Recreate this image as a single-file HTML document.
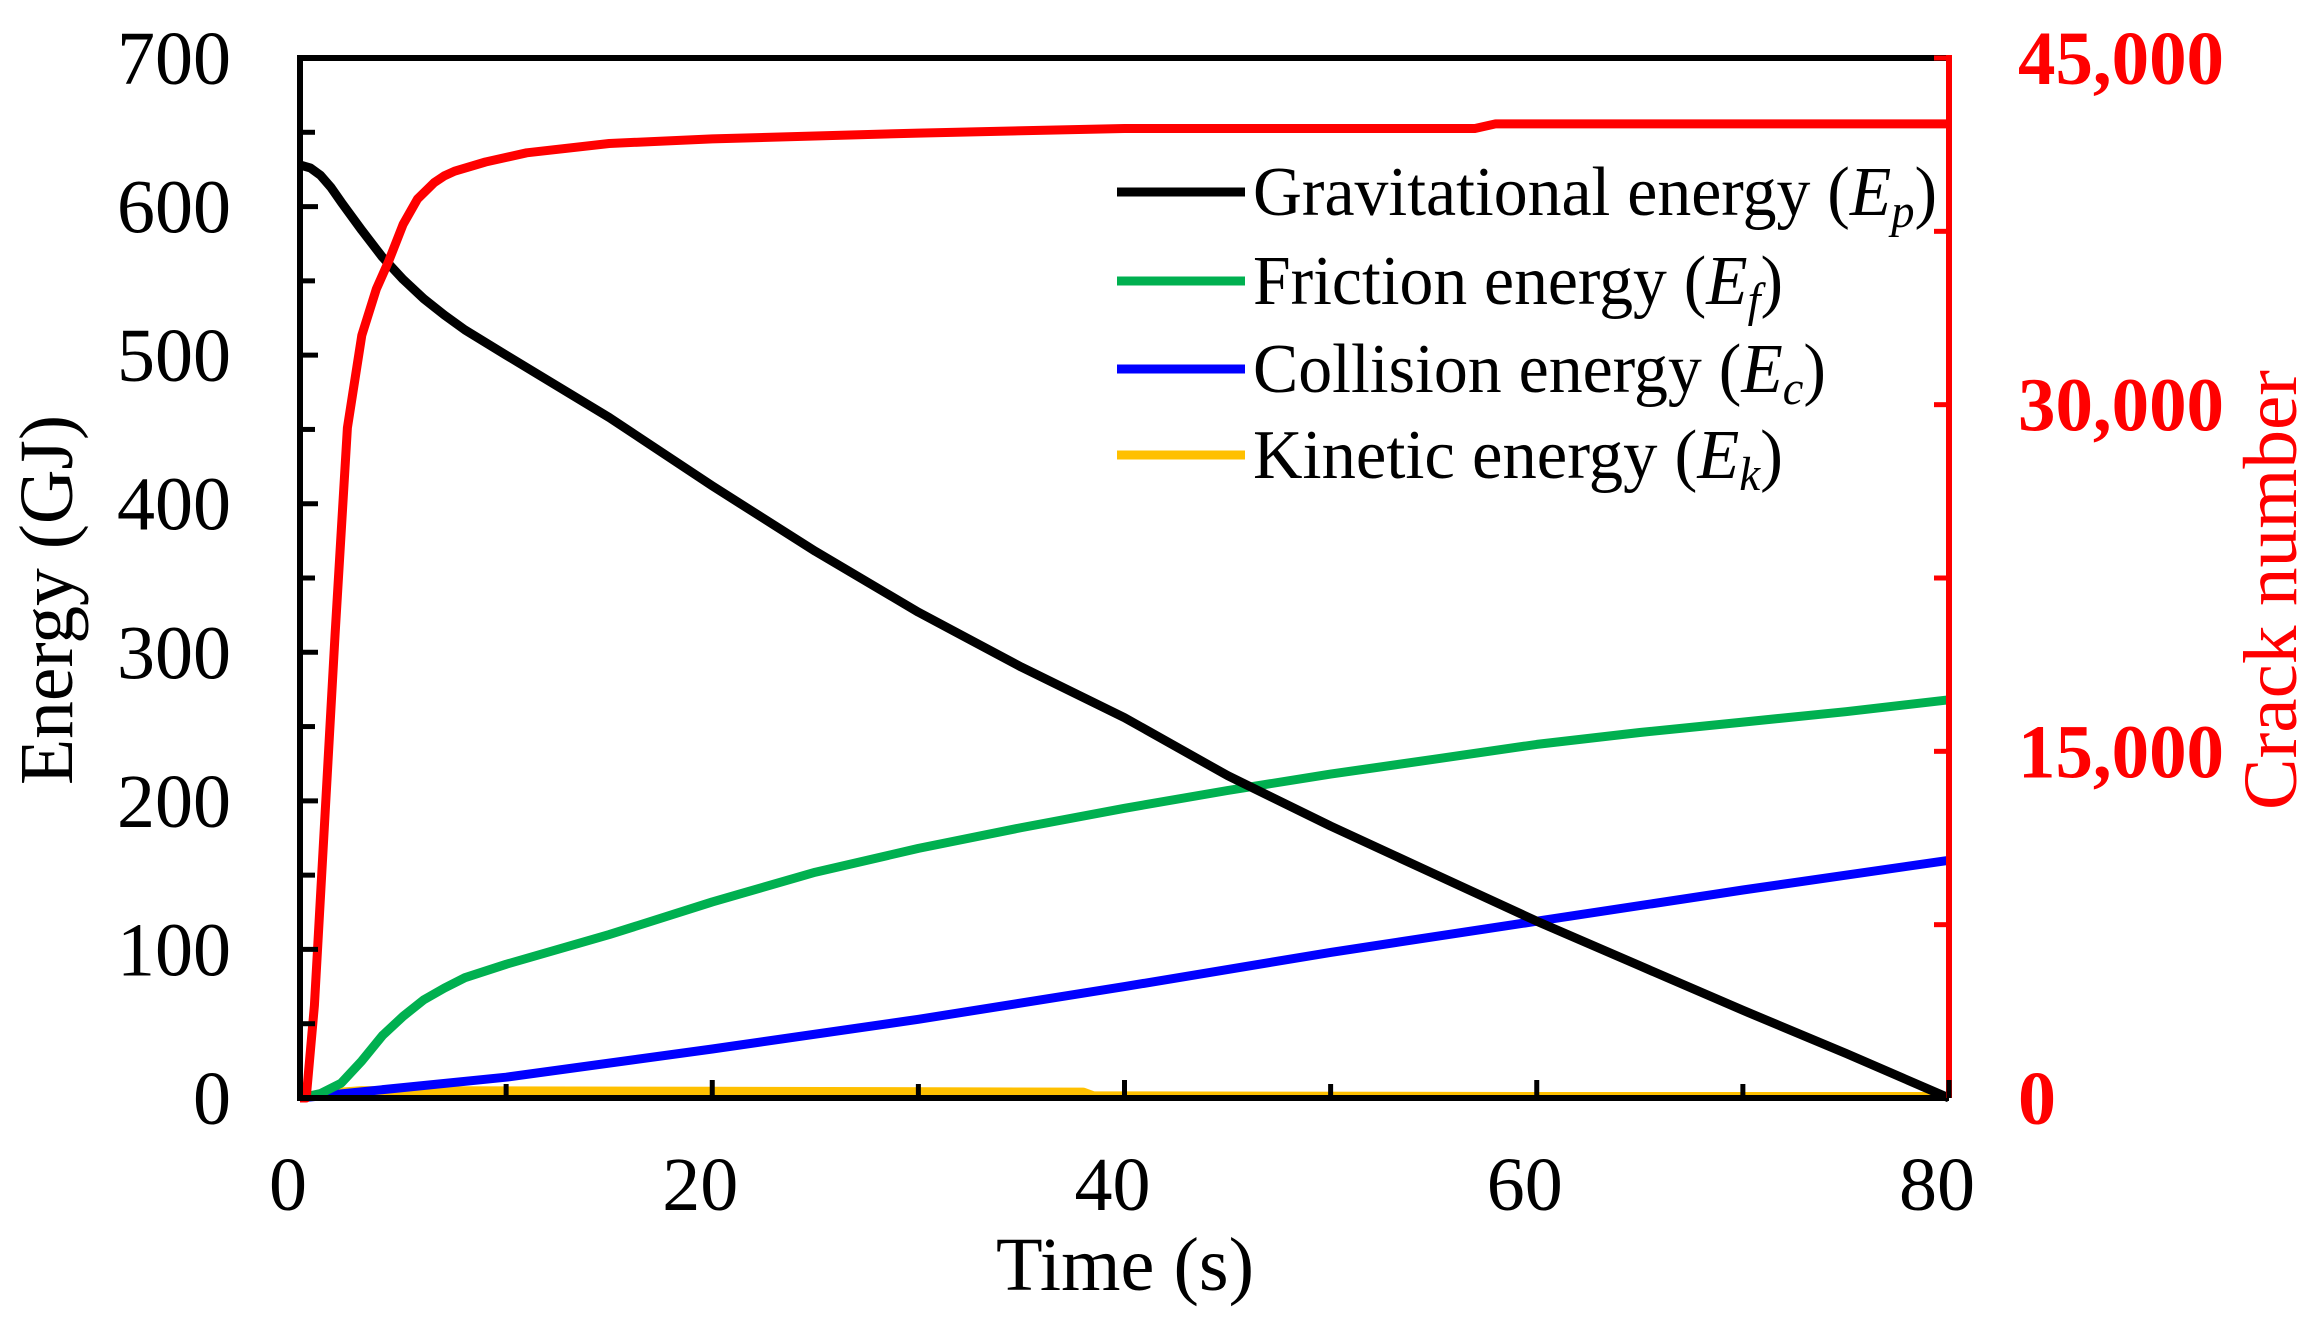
<!DOCTYPE html>
<html><head><meta charset="utf-8"><style>
html,body{margin:0;padding:0;background:#fff;}
svg{display:block;}
text{font-family:"Liberation Serif","DejaVu Serif",serif;}
</style></head><body>
<svg id="chart" width="2321" height="1323" viewBox="0 0 2321 1323" xmlns="http://www.w3.org/2000/svg">
<g id="series"></g>
<g id="axes"></g>
<g id="legend">
  <line x1="1117" y1="192" x2="1245" y2="192" stroke="#000" stroke-width="9"/>
  <text x="1253" y="215" font-size="70" textLength="684" lengthAdjust="spacingAndGlyphs">Gravitational energy (<tspan font-style="italic">E</tspan><tspan font-style="italic" font-size="48" dy="12">p</tspan><tspan dy="-12">)</tspan></text>
  <line x1="1117" y1="281" x2="1245" y2="281" stroke="#00b050" stroke-width="9"/>
  <text x="1253" y="304" font-size="70" textLength="530" lengthAdjust="spacingAndGlyphs">Friction energy (<tspan font-style="italic">E</tspan><tspan font-style="italic" font-size="48" dy="12">f</tspan><tspan dy="-12">)</tspan></text>
  <line x1="1117" y1="369" x2="1245" y2="369" stroke="#0000ff" stroke-width="9"/>
  <text x="1253" y="392" font-size="70" textLength="573" lengthAdjust="spacingAndGlyphs">Collision energy (<tspan font-style="italic">E</tspan><tspan font-style="italic" font-size="48" dy="12">c</tspan><tspan dy="-12">)</tspan></text>
  <line x1="1117" y1="455" x2="1245" y2="455" stroke="#ffc000" stroke-width="9"/>
  <text x="1253" y="478" font-size="70" textLength="530" lengthAdjust="spacingAndGlyphs">Kinetic energy (<tspan font-style="italic">E</tspan><tspan font-style="italic" font-size="48" dy="12">k</tspan><tspan dy="-12">)</tspan></text>
</g>
<text transform="translate(72,600) rotate(-90)" text-anchor="middle" font-size="76" textLength="370" lengthAdjust="spacingAndGlyphs">Energy (GJ)</text>
<text transform="translate(2296,590) rotate(-90)" text-anchor="middle" font-size="76" fill="#ff0000" textLength="440" lengthAdjust="spacingAndGlyphs">Crack number</text>
<text x="1125" y="1290" text-anchor="middle" font-size="76" textLength="258" lengthAdjust="spacingAndGlyphs">Time (s)</text>
</svg>
<script>
const timeEp = [0,0.5,1,1.5,2,3,4,5,6,7,8,10,15,20,25,30,35,40,45,50,55,60,65,70,75,80];
const gravitational = [628,626,621,613,603,584,566,551,538,527,517,500,458,412,368,327,290,256,217,183,151,119,89,59,30,0];
const timeEf = [0,1,2,3,4,5,6,7,8,10,15,20,25,30,35,40,45,50,55,60,65,70,75,80];
const friction = [0,3,10,25,42,55,66,74,81,90,110,132,152,168,182,195,207,218,228,238,246,253,260,268];
const timeEc = [0,10,20,30,40,50,60,70,80];
const collision = [0,14,33,53,75,98,119,140,160];
const timeEk = [0,2,3,20,38,38.5,60,80];
const kinetic = [0,4,5,4.5,4,1.5,1,1];
const timeCrack = [0,0.3,0.7,1.2,1.7,2.3,3,3.7,4.3,5,5.7,6.5,7,7.5,9,11,15,20,30,40,57,58,80];
const cracks = [0,0,4000,12000,20000,29000,33000,35000,36200,37800,38900,39600,39900,40100,40500,40900,41300,41500,41750,41950,41950,42150,42150];
const xTicks = [0,20,40,60,80];
const yTicks = [0,100,200,300,400,500,600,700];
const y2Ticks = [0,15000,30000,45000];
const y2TickLabels = ["0","15,000","30,000","45,000"];

const X0=300,X1=1949,Y0=1098,Y1=58;
const sx=t=>X0+(t/80)*(X1-X0);
const sy=v=>Y0-(v/700)*(Y0-Y1);
const sy2=v=>Y0-(v/45000)*(Y0-Y1);
const NS="http://www.w3.org/2000/svg";
const S=document.getElementById('series'), A=document.getElementById('axes');
function mk(tag,attrs,parent){const e=document.createElementNS(NS,tag);for(const k in attrs)e.setAttribute(k,attrs[k]);parent.appendChild(e);return e;}
function line(ts,vs,f,color,name){
  const d=ts.map((t,i)=>(i?'L':'M')+sx(t).toFixed(1)+','+f(vs[i]).toFixed(1)).join(' ');
  const p=mk('path',{d:d,fill:'none',stroke:color,'stroke-width':9,'stroke-linejoin':'round'},S);
  
  
}
line(timeEk,kinetic,sy,'#ffc000','kinetic-energy-line');
line(timeEc,collision,sy,'#0000ff','collision-energy-line');
line(timeEf,friction,sy,'#00b050','friction-energy-line');
line(timeEp,gravitational,sy,'#000000','gravitational-energy-line');
line(timeCrack,cracks,sy2,'#ff0000','crack-number-line');

const fr=mk('path',{d:`M${X0},${Y0} L${X0},${Y1} L${X1},${Y1}`,fill:'none',stroke:'#000','stroke-width':6},A);


const xb=mk('line',{x1:X0-3,y1:Y0,x2:X1,y2:Y0,stroke:'#000','stroke-width':6},A);


const ra=mk('line',{x1:X1,y1:Y1-3,x2:X1,y2:Y0,stroke:'#ff0000','stroke-width':6},A);


for(let t=0;t<=80;t+=10){
  const tk=mk('line',{x1:sx(t),y1:Y0,x2:sx(t),y2:Y0-(t%20?14:18),stroke:'#000','stroke-width':5},A);
  
  
}
xTicks.forEach(t=>{
  const tx=mk('text',{x:sx(t)-12,y:1210,'text-anchor':'middle','font-size':76},A);
  tx.textContent=t;
  
  
});
for(let v=50;v<700;v+=50){
  const tk=mk('line',{x1:X0,y1:sy(v),x2:X0+(v%100?15:18),y2:sy(v),stroke:'#000','stroke-width':5},A);
  
  
}
yTicks.forEach(v=>{
  const tx=mk('text',{x:231,y:sy(v)+26,'text-anchor':'end','font-size':76},A);
  tx.textContent=v;
  
  
});
for(let v=7500;v<=45000;v+=7500){
  const tk=mk('line',{x1:X1,y1:sy2(v),x2:X1-15,y2:sy2(v),stroke:'#ff0000','stroke-width':5},A);
  
  
}
y2Ticks.forEach((v,i)=>{
  const tx=mk('text',{x:2018,y:sy2(v)+26,'font-size':76,'font-weight':'bold',fill:'#ff0000'},A);
  tx.textContent=y2TickLabels[i];
  if(i>0){tx.setAttribute('textLength','206');tx.setAttribute('lengthAdjust','spacingAndGlyphs');}
  
  
});
</script>
</body></html>
